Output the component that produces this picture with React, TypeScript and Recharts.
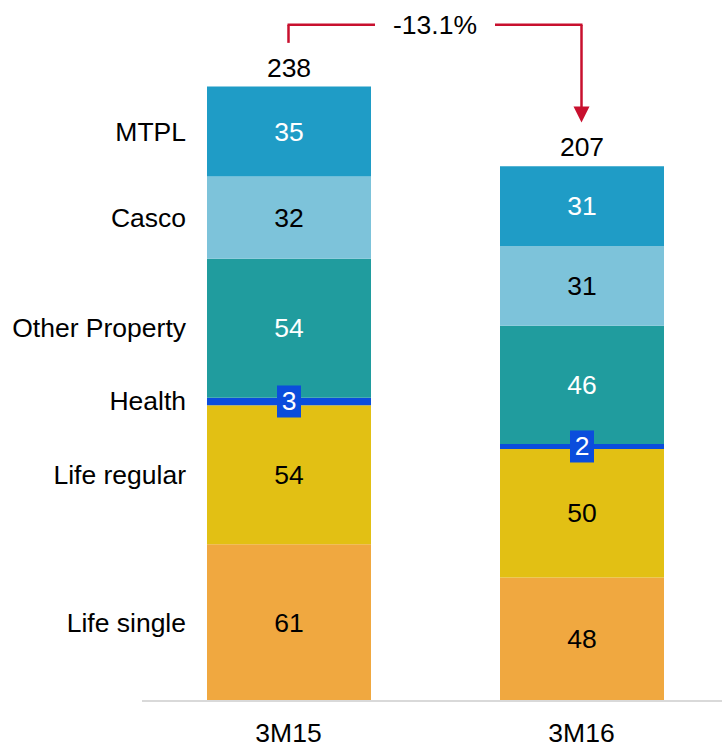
import { BarChart, Bar, XAxis, YAxis, LabelList, ReferenceLine } from "recharts";

const periods = ["3M15", "3M16"];
const lifeSingle = [61, 48];
const lifeRegular = [54, 50];
const health = [3, 2];
const otherProperty = [54, 46];
const casco = [32, 31];
const mtpl = [35, 31];
const totals = [238, 207];
const changeLabel = "-13.1%";

const FONT = '"Liberation Sans", Arial, sans-serif';
const FS = 26.5;
const RED = "#C8102E";

const series = [
  { key: "lifeSingle", name: "Life single", values: lifeSingle, color: "#F0A840", text: "#000" },
  { key: "lifeRegular", name: "Life regular", values: lifeRegular, color: "#E2C014", text: "#000" },
  { key: "health", name: "Health", values: health, color: "#0B4DDC", text: "#fff" },
  { key: "otherProperty", name: "Other Property", values: otherProperty, color: "#209C9E", text: "#fff" },
  { key: "casco", name: "Casco", values: casco, color: "#7DC3DA", text: "#000" },
  { key: "mtpl", name: "MTPL", values: mtpl, color: "#1F9CC6", text: "#fff" },
];

const data = periods.map((period, i) => {
  const row: Record<string, string | number> = { period, total: totals[i] };
  series.forEach((s) => (row[s.key] = s.values[i]));
  return row;
});

// annotation heights (value units) for the change arrow
const arrowTop = 263;
const arrowGap = 18;

function segmentLabel(s: (typeof series)[number]) {
  return (props: any) => {
    const vb = props.viewBox || props;
    const x = Number(vb.x);
    const y = Number(vb.y);
    const w = Number(vb.width);
    const h = Number(vb.height);
    const cx = x + w / 2;
    const cy = y + h / 2;
    const isHealth = s.key === "health";
    return (
      <g>
        {props.index === 0 && (
          <text x={x - 21} y={cy} textAnchor="end" dominantBaseline="central" fontSize={FS} fontFamily={FONT} fill="#000">
            {s.name}
          </text>
        )}
        {isHealth && <rect x={cx - 12} y={cy - 16} width={24} height={32} fill={s.color} />}
        <text x={cx} y={cy} textAnchor="middle" dominantBaseline="central" fontSize={FS} fontFamily={FONT} fill={s.text}>
          {props.value}
        </text>
      </g>
    );
  };
}

function totalLabel(props: any) {
  const vb = props.viewBox || props;
  const cx = Number(vb.x) + Number(vb.width) / 2;
  return (
    <text x={cx} y={Number(vb.y) - 19} textAnchor="middle" dominantBaseline="central" fontSize={FS} fontFamily={FONT} fill="#000">
      {totals[props.index]}
    </text>
  );
}

function plainLine(p: any) {
  return <line x1={p.x1} y1={p.y1} x2={p.x2} y2={p.y2} stroke={RED} strokeWidth={2.5} />;
}

function brokenLine(p: any) {
  const mx = (p.x1 + p.x2) / 2;
  return (
    <g>
      <line x1={p.x1 - 1} y1={p.y1} x2={mx - 60} y2={p.y2} stroke={RED} strokeWidth={2.5} />
      <line x1={mx + 60} y1={p.y1} x2={p.x2 + 1} y2={p.y2} stroke={RED} strokeWidth={2.5} />
      <text x={mx} y={p.y1} textAnchor="middle" dominantBaseline="central" fontSize={FS} fontFamily={FONT} fill="#000">
        {changeLabel}
      </text>
    </g>
  );
}

function arrowLine(p: any) {
  return (
    <g>
      <line x1={p.x1} y1={p.y1} x2={p.x2} y2={p.y2 - 15} stroke={RED} strokeWidth={2.5} />
      <polygon points={`${p.x2 - 8},${p.y2 - 16} ${p.x2 + 8},${p.y2 - 16} ${p.x2},${p.y2}`} fill={RED} />
    </g>
  );
}

export default function App() {
  return (
    <div style={{ position: "absolute", left: 0, top: 0, width: 722, height: 743, overflow: "hidden", background: "#fff" }}>
      <BarChart width={728} height={743} data={data} margin={{ top: 84, right: 0, bottom: 12, left: 142 }}>
        <XAxis
          dataKey="period"
          height={30}
          tickLine={false}
          axisLine={{ stroke: "#D9D9D9", strokeWidth: 2 }}
          tickMargin={16}
          tick={{ fontSize: FS, fill: "#000", fontFamily: FONT }}
        />
        <YAxis hide domain={[0, 240]} />
        {series.map((s) => (
          <Bar key={s.key} dataKey={s.key} stackId="a" fill={s.color} barSize={164} isAnimationActive={false}>
            <LabelList dataKey={s.key} content={segmentLabel(s)} />
            {s.key === "mtpl" && <LabelList dataKey="total" content={totalLabel} />}
          </Bar>
        ))}
        <ReferenceLine
          ifOverflow="visible"
          segment={[{ x: periods[0], y: totals[0] + arrowGap }, { x: periods[0], y: arrowTop }]}
          shape={plainLine}
        />
        <ReferenceLine
          ifOverflow="visible"
          segment={[{ x: periods[0], y: arrowTop }, { x: periods[1], y: arrowTop }]}
          shape={brokenLine}
        />
        <ReferenceLine
          ifOverflow="visible"
          segment={[{ x: periods[1], y: arrowTop }, { x: periods[1], y: totals[1] + arrowGap }]}
          shape={arrowLine}
        />
      </BarChart>
    </div>
  );
}
